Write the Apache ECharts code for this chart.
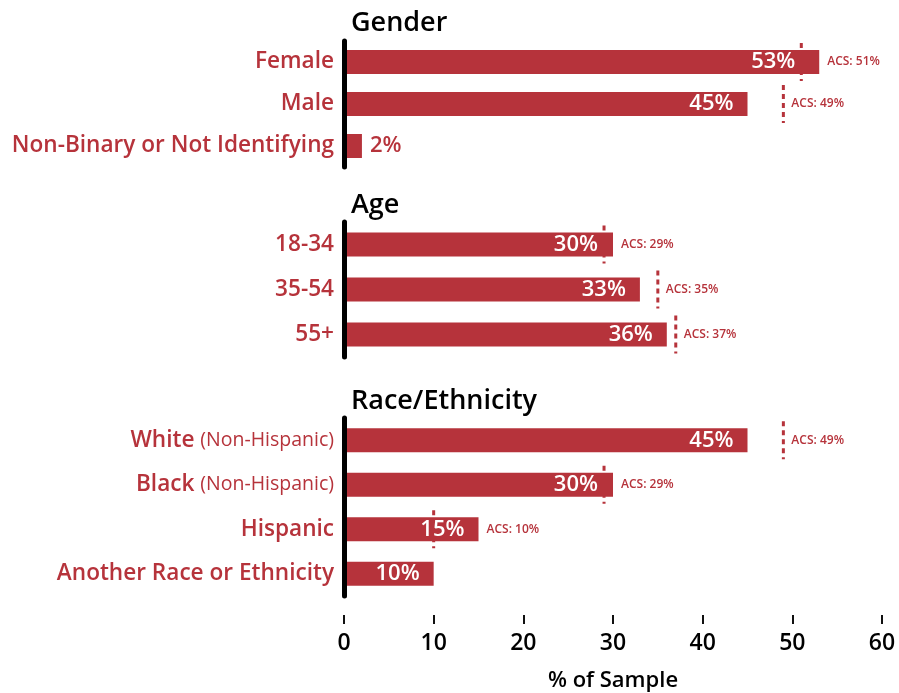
<!DOCTYPE html>
<html>
<head>
<meta charset="utf-8">
<script src="https://cdn.jsdelivr.net/npm/echarts@6/dist/echarts.min.js"></script>
<style>
  html, body { margin: 0; padding: 0; background: #fff; }
  #chart { width: 899px; height: 693px; }
</style>
</head>
<body>
<div id="chart"></div>
<script>
// Sample composition vs. ACS benchmarks
const genderCats = ['Female', 'Male', 'Non-Binary or Not Identifying'];
const genderVals = [53, 45, 2];
const genderAcs = [51, 49, null];

const ageCats = ['18-34', '35-54', '55+'];
const ageVals = [30, 33, 36];
const ageAcs = [29, 35, 37];

const raceCats = ['White (Non-Hispanic)', 'Black (Non-Hispanic)', 'Hispanic', 'Another Race or Ethnicity'];
const raceVals = [45, 30, 15, 10];
const raceAcs = [49, 29, 10, null];

const panelTitles = ['Gender', 'Age', 'Race/Ethnicity'];
const xTicks = [0, 10, 20, 30, 40, 50, 60];
const axisName = '% of Sample';

const RED = '#b6333b';
const FONT = '"Open Sans", "Noto Sans", sans-serif';
const X_MIN = xTicks[0], X_MAX = xTicks[xTicks.length - 1];
const PLOT_W = 538;
const PX_PER_UNIT = PLOT_W / (X_MAX - X_MIN);

const panels = [
  { cats: genderCats, vals: genderVals, acs: genderAcs, top: 41, height: 126, titleTop: 5 },
  { cats: ageCats, vals: ageVals, acs: ageAcs, top: 222, height: 135, titleTop: 187 },
  { cats: raceCats, vals: raceVals, acs: raceAcs, top: 418, height: 178, titleTop: 383 }
];

function barItems(vals, acs) {
  return vals.map((v, i) => {
    const a = acs[i];
    if (v < 5) {
      return { value: v, label: { position: 'right', distance: 8, color: RED } };
    }
    let dist = 14;
    if (a != null && a < v && v - a < 4) dist = Math.max(14, (v - a) * PX_PER_UNIT + 6);
    return { value: v, label: { distance: dist } };
  });
}

function acsItems(vals, acs) {
  const out = [];
  acs.forEach((a, i) => { if (a != null) out.push([a, i, vals[i]]); });
  return out;
}

function renderAcs(params, api) {
  const acsVal = api.value(0);
  const idx = api.value(1);
  const barVal = api.value(2);
  const p = api.coord([acsVal, idx]);
  const e = api.coord([Math.max(acsVal, barVal), idx]);
  return {
    type: 'group',
    children: [
      {
        type: 'line',
        shape: { x1: p[0], y1: p[1] - 19, x2: p[0], y2: p[1] + 19 },
        style: { stroke: RED, lineWidth: 3, lineDash: [5, 4] }
      },
      {
        type: 'text',
        x: e[0] + 8, y: p[1],
        style: {
          text: 'ACS: ' + acsVal + '%',
          fill: RED, font: '600 12px ' + FONT,
          verticalAlign: 'middle', align: 'left'
        }
      }
    ]
  };
}

const grid = [], xAxis = [], yAxis = [], series = [], title = [];
panels.forEach((p, k) => {
  const last = k === panels.length - 1;
  grid.push({ left: 344, width: PLOT_W, top: p.top, height: p.height, containLabel: false });
  title.push({
    text: panelTitles[k], left: 346, top: p.titleTop,
    textStyle: { fontFamily: FONT, fontSize: 27, fontWeight: 600, color: '#000' }
  });
  xAxis.push({
    type: 'value', gridIndex: k, min: X_MIN, max: X_MAX, interval: 10,
    show: last,
    offset: last ? 19 : 0,
    splitLine: { show: false },
    axisLine: { show: false },
    axisTick: { show: true, length: 9, lineStyle: { color: '#111', width: 2 } },
    axisLabel: { color: '#000', fontFamily: FONT, fontSize: 23, fontWeight: 600, margin: 17 },
    name: last ? axisName : '',
    nameLocation: 'middle', nameGap: 55,
    nameTextStyle: { color: '#000', fontFamily: FONT, fontSize: 22, fontWeight: 600 }
  });
  yAxis.push({
    type: 'category', gridIndex: k, data: p.cats, inverse: true, z: 10,
    axisLine: { show: true, lineStyle: { color: '#000', width: 5 } },
    axisTick: { show: false },
    splitLine: { show: false },
    axisLabel: {
      margin: 10,
      color: RED, fontFamily: FONT, fontSize: 22.6, fontWeight: 600,
      formatter: (v) => {
        const m = v.match(/^(\S+) (\(.*\))$/);
        return m ? '{b|' + m[1] + '} {n|' + m[2] + '}' : '{b|' + v + '}';
      },
      rich: {
        b: { color: RED, fontFamily: FONT, fontSize: 22.6, fontWeight: 600 },
        n: { color: RED, fontFamily: FONT, fontSize: 19.5, fontWeight: 400 }
      }
    }
  });
  series.push({
    type: 'custom', xAxisIndex: k, yAxisIndex: k, z: 1,
    renderItem: renderAcs,
    encode: { x: 0, y: 1 },
    data: acsItems(p.vals, p.acs),
    silent: true
  });
  series.push({
    type: 'bar', xAxisIndex: k, yAxisIndex: k, z: 2,
    barWidth: 24,
    itemStyle: { color: RED },
    label: {
      show: true, position: 'insideRight',
      color: '#fff', fontFamily: FONT, fontSize: 22, fontWeight: 600,
      formatter: (d) => d.value + '%'
    },
    data: barItems(p.vals, p.acs),
    silent: true
  });
});

const chart = echarts.init(document.getElementById('chart'), null, { renderer: 'canvas' });
chart.setOption({
  animation: false,
  backgroundColor: '#fff',
  title, grid, xAxis, yAxis, series
});
</script>
</body>
</html>
